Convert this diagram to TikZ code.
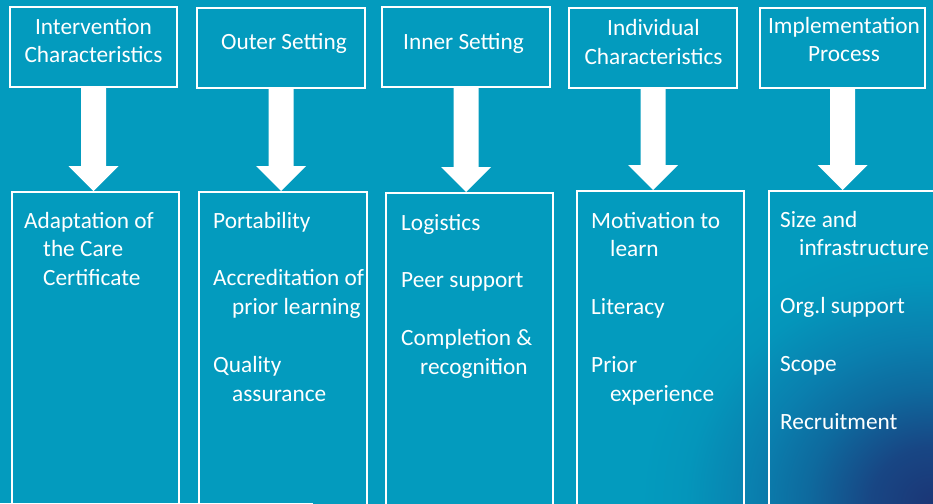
\documentclass[tikz,border=0pt]{standalone}
\usepackage{fontspec}
\setmainfont{Carlito}
\usetikzlibrary{calc}

\definecolor{bgteal}{RGB}{3,155,190}
\definecolor{glowa}{RGB}{27,54,118}
\definecolor{glowb}{RGB}{24,70,132}
\definecolor{glowc}{RGB}{14,106,158}
\definecolor{glowd}{RGB}{10,127,174}
\definecolor{glowe}{RGB}{4,150,187}

% dark glow spreading from the lower right corner
\pgfdeclareradialshading{cornerglow}{\pgfpoint{0bp}{0bp}}{%
  color(0bp)=(glowa); color(2.5bp)=(glowb); color(5.1bp)=(glowc); color(7.2bp)=(glowd);
  color(10bp)=(glowe); color(11.8bp)=(bgteal); color(50bp)=(bgteal)}

\tikzset{
  framebox/.style={draw=white, line width=2pt, inner sep=0pt},
  topbox/.style={framebox, minimum height=80pt},
  lowbox/.style={framebox, minimum height=380pt, anchor=north},
  headtext/.style={text=white, inner sep=0pt, align=center, anchor=base,
    font=\fontsize{23.3}{28.5}\selectfont},
  itemtext/.style={text=white, inner sep=0pt, align=left, anchor=base west,
    font=\fontsize{23.3}{28.8}\selectfont},
  arrowfill/.style={fill=white},
}
\newcommand{\ind}{\hspace*{19pt}}

\begin{document}
\begin{tikzpicture}[x=1pt,y=-1pt]
\useasboundingbox (0,0) rectangle (933,503);
\clip (0,0) rectangle (933,503);

% background
\fill[bgteal] (0,0) rectangle (933,503);
\shade[shading=cornerglow] (933,503) ellipse [x radius=620pt, y radius=560pt];

% domain headings (text placed by the baseline of its last line)
\node[topbox, minimum width=167pt] (t1) at (93.5,47) {};
\node[topbox, minimum width=168pt] (t2) at (281,48) {};
\node[topbox, minimum width=168pt] (t3) at (466,47) {};
\node[topbox, minimum width=168pt] (t4) at (653,48) {};
\node[topbox, minimum width=165pt] (t5) at (842.5,48) {};

\node[headtext] (h1) at (93.5,63) {Intervention\\Characteristics};
\node[headtext] (h2) at (284,49) {Outer Setting};
\node[headtext] (h3) at (463.5,49) {Inner Setting};
\node[headtext] (h4) at (653.5,64) {Individual\\Characteristics};
\node[headtext] (h5) at (844,62) {Implementation\\Process};

% factor columns
\node[lowbox, minimum width=167pt] (b1) at (95.5,191) {};
\node[lowbox, minimum width=168pt] (b2) at (283,191) {};
\node[lowbox, minimum width=167pt] (b3) at (469.5,192) {};
\node[lowbox, minimum width=167pt] (b4) at (660.5,190) {};
\node[lowbox, minimum width=168pt] (b5) at (853,190) {};

\node[itemtext] (i1) at (24,285.6) {Adaptation of\\\ind the Care\\\ind Certificate};
\node[itemtext] (i2) at (213,401.2) {Portability\\[29pt]Accreditation of\\\ind prior learning\\[29pt]Quality\\\ind assurance};
\node[itemtext] (i3) at (401,374.4) {Logistics\\[29pt]Peer support\\[29pt]Completion \&\\\ind recognition};
\node[itemtext] (i4) at (591,401.2) {Motivation to\\\ind learn\\[29pt]Literacy\\[29pt]Prior\\\ind experience};
\node[itemtext] (i5) at (780,429.2) {Size and\\\ind infrastructure\\[29pt]Org.l support\\[29pt]Scope\\[29pt]Recruitment};

% block arrows from each heading down to its column
\foreach \i in {1,...,5}{
  \coordinate (tip\i) at (t\i.south |- b\i.north);
  \fill[arrowfill]
    ($(t\i.south)+(-12.5,0)$) -- ($(tip\i)+(-12.5,-25)$) -- ($(tip\i)+(-25,-25)$)
    -- (tip\i)
    -- ($(tip\i)+(25,-25)$) -- ($(tip\i)+(12.5,-25)$) -- ($(t\i.south)+(12.5,0)$) -- cycle;
}
\end{tikzpicture}
\end{document}
